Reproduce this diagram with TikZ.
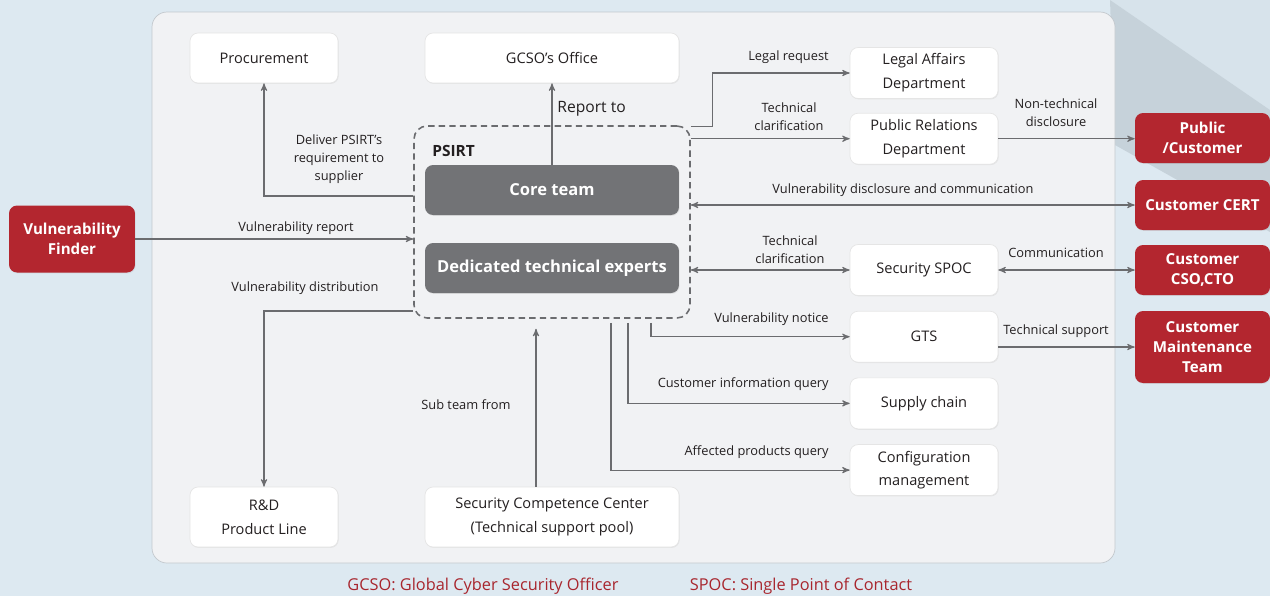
\documentclass[tikz,border=0pt]{standalone}
\usepackage{fontspec}
\setmainfont{Open Sans}
\usetikzlibrary{arrows,calc,positioning,shadows}
\definecolor{bg}{HTML}{DDE9F1}
\definecolor{bglys}{HTML}{D7E3EB}
\definecolor{bgdark}{HTML}{C6D2DA}
\definecolor{panel}{HTML}{F1F2F4}
\definecolor{panelline}{HTML}{C3C8CD}
\definecolor{linje}{HTML}{6B6C6F}
\definecolor{kjernegraa}{HTML}{727376}
\definecolor{rod}{HTML}{B3262F}
\definecolor{fotrod}{HTML}{A8262E}
\definecolor{txt}{HTML}{231F20}
\tikzset{
    >=stealth',
    boks/.style={
           rectangle, rounded corners=0.16cm,
           fill=white, draw=black!10,
           minimum width=2.96cm, minimum height=1.02cm,
           inner sep=0pt, align=center, text=txt,
           font=\fontsize{8.3}{13.5}\selectfont,
           drop shadow={opacity=0.12, shadow xshift=0.4pt, shadow yshift=-0.5pt}},
    kjerne/.style={
           rectangle, rounded corners=0.16cm,
           fill=kjernegraa, minimum width=5.08cm, minimum height=1cm,
           inner sep=0pt, text=white,
           font=\fontsize{9.4}{11}\selectfont\bfseries,
           drop shadow={opacity=0.15, shadow xshift=0.4pt, shadow yshift=-0.5pt}},
    ekstern/.style={
           rectangle, rounded corners=0.16cm,
           fill=rod, minimum width=2.7cm, minimum height=1cm,
           inner sep=0pt, align=center, text=white,
           font=\fontsize{8.6}{11.2}\selectfont\bfseries,
           drop shadow={opacity=0.15, shadow xshift=0.4pt, shadow yshift=-0.5pt}},
    tekst/.style={
           inner sep=0pt, align=center, text=txt,
           font=\fontsize{7.3}{10.2}\selectfont},
    fotnote/.style={
           inner sep=0pt, text=fotrod,
           font=\fontsize{9.3}{11}\selectfont},
    pil/.style={
           ->, draw=linje, line width=0.6pt},
    dpil/.style={
           <->, draw=linje, line width=0.6pt}
}
\begin{document}
\begin{tikzpicture}[x=0.02cm, y=-0.02cm, node distance=0.3cm]
        % background and panel
        \fill[bg] (0,0) rectangle (1270,596);
        \fill[bglys] (1110,0) -- (1270,0) -- (1270,110) -- cycle;
        \fill[bgdark] (1110,0) -- (1270,110) -- (1270,232) -- (1115,145) -- cycle;
        \filldraw[fill=panel, draw=panelline, rounded corners=0.3cm] (152,12) rectangle (1115,563);
        \useasboundingbox (0,0) rectangle (1270,596);

        % PSIRT
        \node[draw=linje, dashed, line width=0.9pt, dash pattern=on 3.6pt off 2.4pt,
              rounded corners=0.26cm, minimum width=5.52cm, minimum height=3.84cm] (psirt) at (552,222) {};
        \node[anchor=west, inner sep=0pt, text=txt, font=\fontsize{8.8}{11}\selectfont\bfseries] (psirtnavn) at (432,151) {PSIRT};
        \node[kjerne] (core) at (552,190) {Core team};
        \node[kjerne] (experts) at (552,268) {Dedicated technical experts};

        % left and top
        \node[boks, minimum height=1cm] (proc) at (264,58) {Procurement};
        \node[boks, minimum width=5.08cm, minimum height=1cm] (gcso) at (552,58) {GCSO’s Office};
        \node[ekstern, minimum width=2.52cm, minimum height=1.34cm] (finder) at (72,239) {Vulnerability\\Finder};
        \node[boks, minimum height=1.2cm] (rd) at (264,517) {R\&D\\Product Line};
        \node[boks, minimum width=5.08cm, minimum height=1.2cm] (scc) at (552,517) {Security Competence Center\\(Technical support pool)};

        % right column
        \node[boks] (legal) at (924,73) {Legal Affairs\\Department};
        \node[boks, below=0.28cm of legal] (pr) {Public Relations\\Department};
        \node[boks] (spoc) at (924,270) {Security SPOC};
        \node[boks, below=of spoc] (gts) {GTS};
        \node[boks, below=of gts] (supply) {Supply chain};
        \node[boks, below=of supply] (conf) {Configuration\\management};

        % customers
        \node[ekstern] (pub) at (1202.5,138) {Public\\/Customer};
        \node[ekstern] (cert) at (1202.5,205) {Customer CERT};
        \node[ekstern] (cso) at (1202.5,270) {Customer\\CSO,CTO};
        \node[ekstern, minimum height=1.44cm] (cmt) at (1202.5,347) {Customer\\Maintenance\\Team};

        % connectors
        \draw[pil] ($(psirt.west)+(0,-26)$) -| (proc);
        \draw[pil] (finder) -- (finder -| psirt.west);
        \draw[pil] ($(psirt.west)+(0,89)$) -| (rd);
        \draw[pil] (core) -- (gcso);
        \draw[pil] ($(psirt.north east)+(0,1)$) -- ++(22,0) |- (legal);
        \draw[pil] (pr -| psirt.east) -- (pr);
        \draw[pil] (pr) -- (pr -| pub.west);
        \draw[dpil] (cert -| psirt.east) -- (cert);
        \draw[dpil] (spoc -| psirt.east) -- (spoc);
        \draw[dpil] (spoc) -- (spoc -| cso.west);
        \draw[pil] ($(psirt.south)+(99,4)$) |- (gts);
        \draw[pil] (cmt -| gts.east) -- (cmt);
        \draw[pil] ($(psirt.south)+(76,4)$) |- (supply);
        \draw[pil] ($(psirt.south)+(59,4)$) |- (conf);
        \draw[pil] ($(scc.north)+(-16,0)$) -- ($(psirt.south)+(-16,10)$);

        % labels
        \node[tekst] (t1) at (339,159) {Deliver PSIRT’s\\requirement to\\supplier};
        \node[tekst] (t2) at (296,228) {Vulnerability report};
        \node[tekst] (t3) at (305,288) {Vulnerability distribution};
        \node[tekst, anchor=west, font=\fontsize{8.9}{11}\selectfont] (t4) at (557,109) {Report to};
        \node[tekst, anchor=east] (t5) at (829,57) {Legal request};
        \node[tekst] (t6) at (789,117) {Technical\\clarification};
        \node[tekst] (t7) at (1056,113) {Non-technical\\disclosure};
        \node[tekst] (t8) at (903,190) {Vulnerability disclosure and communication};
        \node[tekst] (t9) at (790,250) {Technical\\clarification};
        \node[tekst] (t10) at (1056,253) {Communication};
        \node[tekst, anchor=east] (t11) at (829,319) {Vulnerability notice};
        \node[tekst] (t12) at (1056,331) {Technical support};
        \node[tekst, anchor=east] (t13) at (829,384) {Customer information query};
        \node[tekst, anchor=east] (t14) at (829,452) {Affected products query};
        \node[tekst] (t15) at (466,405) {Sub team from};

        % footnotes
        \node[fotnote] (fot1) at (483,586) {GCSO: Global Cyber Security Officer};
        \node[fotnote] (fot2) at (801,586) {SPOC: Single Point of Contact};
    \end{tikzpicture}
\end{document}
